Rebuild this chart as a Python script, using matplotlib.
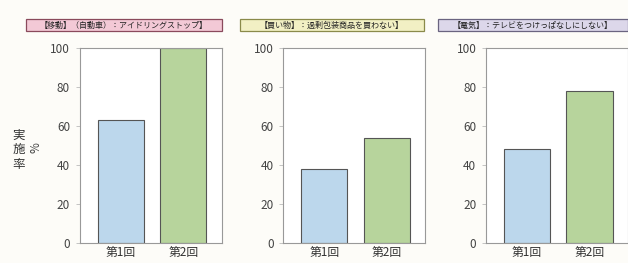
import matplotlib.pyplot as plt
from matplotlib.patches import Rectangle

plt.rcParams['font.family'] = ['Noto Sans CJK JP', 'DejaVu Sans']

# データ
rounds = ["第1回", "第2回"]
titles = ["【移動】（自動車）：アイドリングストップ】",
          "【買い物】：過剰包装商品を買わない】",
          "【電気】：テレビをつけっぱなしにしない】"]
rate_car = [63, 100]
rate_shop = [38, 54]
rate_tv = [48, 78]
values = [rate_car, rate_shop, rate_tv]
yticks = [0, 20, 40, 60, 80, 100]
ylabel_chars = ["実", "施", "率"]

bar_colors = ['#bcd7ec', '#b7d49c']
box_face = ['#f3c9d6', '#f2f0c4', '#dcd7ea']
box_edge = ['#8a4a5c', '#8a8a4a', '#6a6480']
box_x = [0.041, 0.382, 0.697]
box_w = [0.312, 0.293, 0.303]

fig = plt.figure(figsize=(6.28, 2.63), dpi=100)
fig.patch.set_facecolor('#fdfcf8')

lefts = [0.127, 0.451, 0.774]
for i in range(3):
    ax = fig.add_axes([lefts[i], 0.076, 0.226, 0.741])
    ax.set_facecolor('white')
    ax.bar([0, 1], values[i], width=0.74, color=bar_colors,
           edgecolor='#555555', linewidth=0.8)
    ax.set_xlim(-0.656, 1.616)
    ax.set_ylim(0, 100)
    ax.set_yticks(yticks)
    ax.set_xticks([0, 1])
    ax.set_xticklabels(rounds, fontsize=8.5, color='#333333')
    ax.tick_params(axis='x', length=0, pad=2)
    ax.tick_params(axis='y', length=3, width=0.6, colors='#bbbbbb',
                   labelcolor='#444444', labelsize=8.5, pad=4)
    for s in ax.spines.values():
        s.set_color('#999999')
        s.set_linewidth(0.8)
    # タイトル枠
    fig.patches.append(Rectangle((box_x[i], 0.882), box_w[i], 0.046,
                                 transform=fig.transFigure,
                                 facecolor=box_face[i], edgecolor=box_edge[i],
                                 linewidth=0.9))
    fig.text(box_x[i] + box_w[i] / 2, 0.905, titles[i], fontsize=5.8,
             color='#222222', ha='center', va='center')

# 縦軸ラベル（縦書き）
for k, ch in enumerate(ylabel_chars):
    fig.text(0.030, 0.485 - k * 0.055, ch, fontsize=9, color='#333333',
             ha='center', va='center')
fig.text(0.058, 0.44, "%", fontsize=8.5, color='#444444',
         ha='center', va='center', rotation=90)

plt.savefig('out.png', dpi=100, facecolor=fig.get_facecolor())
